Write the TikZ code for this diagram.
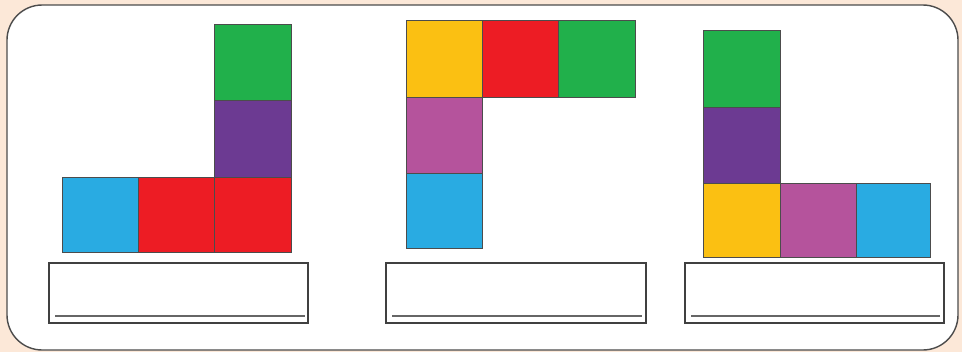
\documentclass[tikz,border=0pt]{standalone}
\definecolor{peach}{HTML}{FCE8D8}
\definecolor{tileblue}{HTML}{29ABE2}
\definecolor{tilered}{HTML}{ED1C24}
\definecolor{tilegreen}{HTML}{21B04B}
\definecolor{tilepurple}{HTML}{6C3A92}
\definecolor{tilepink}{HTML}{B5539C}
\definecolor{tileyellow}{HTML}{FBC012}
\tikzset{
  tile/.style={draw=black!70,line width=0.4pt},
  answerbox/.style={draw=black!75,line width=0.9pt,fill=white},
  writeline/.style={draw=black!60,line width=1pt}
}
\begin{document}
\begin{tikzpicture}[x=0.03cm,y=-0.03cm]
    \useasboundingbox (0,0) rectangle (962,352);
    \fill[peach] (0,0) rectangle (962,352);
    \draw[black!70,line width=1.2pt,fill=white,rounded corners=30] (7,5) rectangle (958,350);
    % first shape
    \draw[tile,fill=tileblue] (62,177) rectangle (138,252);
    \draw[tile,fill=tilered] (138,177) rectangle (214,252);
    \draw[tile,fill=tilered] (214,177) rectangle (291,252);
    \draw[tile,fill=tilepurple] (214,100) rectangle (291,177);
    \draw[tile,fill=tilegreen] (214,24) rectangle (291,100);
    \draw[answerbox] (49,263) rectangle (308,323);
    \draw[writeline] (55,316) -- (305,316);
    % second shape
    \draw[tile,fill=tileyellow] (406,20) rectangle (482,97);
    \draw[tile,fill=tilered] (482,20) rectangle (558,97);
    \draw[tile,fill=tilegreen] (558,20) rectangle (635,97);
    \draw[tile,fill=tilepink] (406,97) rectangle (482,173);
    \draw[tile,fill=tileblue] (406,173) rectangle (482,248);
    \draw[answerbox] (386,263) rectangle (646,323);
    \draw[writeline] (392,316) -- (642,316);
    % third shape
    \draw[tile,fill=tilegreen] (703,30) rectangle (780,107);
    \draw[tile,fill=tilepurple] (703,107) rectangle (780,183);
    \draw[tile,fill=tileyellow] (703,183) rectangle (780,257);
    \draw[tile,fill=tilepink] (780,183) rectangle (856,257);
    \draw[tile,fill=tileblue] (856,183) rectangle (930,257);
    \draw[answerbox] (685,263) rectangle (944,323);
    \draw[writeline] (691,316) -- (940,316);
\end{tikzpicture}
\end{document}
